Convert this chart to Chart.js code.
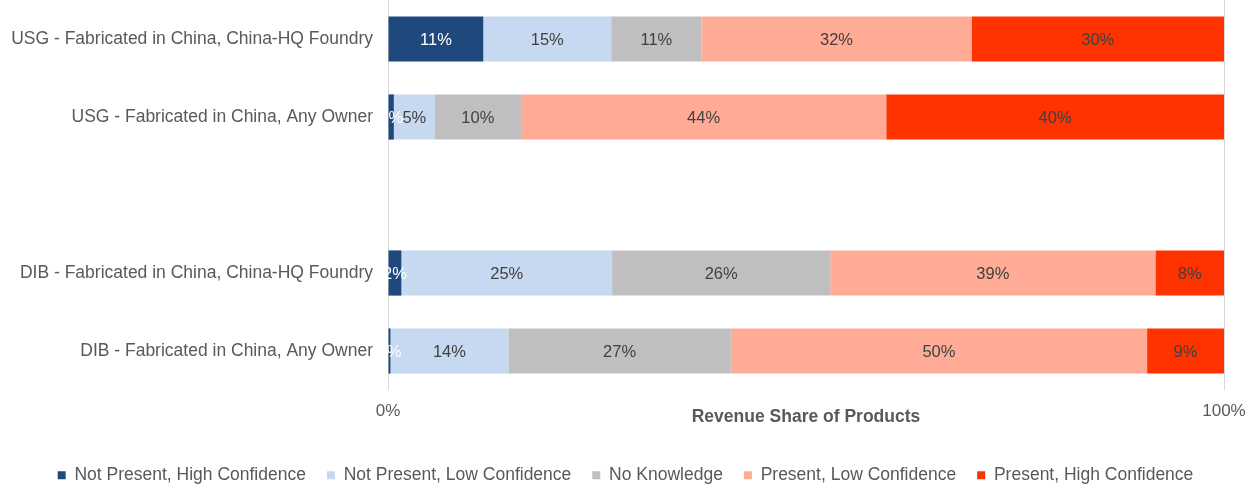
<!DOCTYPE html>
<html>
<head>
<meta charset="utf-8">
<script src="https://cdn.jsdelivr.net/npm/chart.js@4/dist/chart.umd.min.js"></script>
<style>
  html, body { margin: 0; padding: 0; background: #fff; overflow: hidden; }
  #wrap { position: relative; width: 1251px; height: 494px; }
</style>
</head>
<body>
<div id="wrap"><canvas id="c"></canvas></div>
<script>
const categories = [
  'USG - Fabricated in China, China-HQ Foundry',
  'USG - Fabricated in China, Any Owner',
  '',
  'DIB - Fabricated in China, China-HQ Foundry',
  'DIB - Fabricated in China, Any Owner'
];
const seriesNames = [
  'Not Present, High Confidence',
  'Not Present, Low Confidence',
  'No Knowledge',
  'Present, Low Confidence',
  'Present, High Confidence'
];
const notPresentHigh = [11.4, 0.7, null, 1.6, 0.3];
const notPresentLow  = [15.3, 4.9, null, 25.2, 14.1];
const noKnowledge    = [10.8, 10.3, null, 26.1, 26.6];
const presentLow     = [32.3, 43.7, null, 38.9, 49.8];
const presentHigh    = [30.2, 40.4, null, 8.2, 9.2];
const xTickValues = [0, 100];
const axisTitle = 'Revenue Share of Products';

const colors = ['#1F497D', '#C6D9F1', '#BFBFBF', '#FFAB96', '#FF3300'];
const labelColors = ['#FFFFFF', '#404040', '#404040', '#404040', '#404040'];
const seriesData = [notPresentHigh, notPresentLow, noKnowledge, presentLow, presentHigh];
const FONT = "'Liberation Sans', Arial, sans-serif";

const valueLabels = {
  id: 'valueLabels',
  afterDatasetsDraw(chart) {
    const ctx = chart.ctx;
    ctx.save();
    ctx.font = '16.5px ' + FONT;
    ctx.textAlign = 'center';
    ctx.textBaseline = 'middle';
    chart.data.datasets.forEach((ds, i) => {
      const meta = chart.getDatasetMeta(i);
      meta.data.forEach((el, j) => {
        const v = ds.data[j];
        if (v === null || v === undefined) return;
        const p = el.getProps(['x', 'y', 'base'], true);
        ctx.fillStyle = labelColors[i];
        ctx.fillText(Math.round(v) + '%', (p.x + p.base) / 2, p.y + 1);
      });
    });
    ctx.restore();
  }
};

new Chart(document.getElementById('c'), {
  type: 'bar',
  data: {
    labels: categories,
    datasets: seriesData.map((d, i) => ({
      label: seriesNames[i],
      data: d,
      backgroundColor: colors[i],
      borderWidth: 0,
      categoryPercentage: 1,
      barPercentage: 0.58
    }))
  },
  options: {
    indexAxis: 'y',
    responsive: true,
    maintainAspectRatio: false,
    animation: false,
    layout: { padding: { left: 0, right: 0, top: 0, bottom: 0 } },
    scales: {
      x: {
        stacked: true,
        min: 0,
        max: 100,
        afterBuildTicks(s) { s.ticks = xTickValues.map(v => ({ value: v })); },
        afterFit(s) { s.height = 55.5; s.paddingLeft = 0; s.paddingRight = 27; },
        ticks: {
          callback: v => v + '%',
          color: '#595959',
          font: { family: FONT, size: 17 },
          padding: 11,
          maxRotation: 0
        },
        grid: { color: '#D9D9D9', lineWidth: 1, drawTicks: false },
        border: { display: false },
        title: {
          display: true,
          text: axisTitle,
          color: '#595959',
          font: { family: FONT, size: 17.5, weight: 'bold' },
          padding: { top: 0, bottom: 18 }
        }
      },
      y: {
        stacked: true,
        afterFit(s) { s.width = 388; s.paddingTop = 0; s.paddingBottom = 0; },
        ticks: {
          color: '#595959',
          font: { family: FONT, size: 17.5 },
          padding: 15
        },
        grid: { display: false, drawTicks: false },
        border: { display: false }
      }
    },
    plugins: {
      legend: {
        position: 'bottom',
        labels: {
          color: '#595959',
          font: { family: FONT, size: 17.5 },
          boxWidth: 8,
          boxHeight: 8,
          padding: 21
        }
      },
      tooltip: { enabled: false }
    }
  },
  plugins: [valueLabels]
});
</script>
</body>
</html>
